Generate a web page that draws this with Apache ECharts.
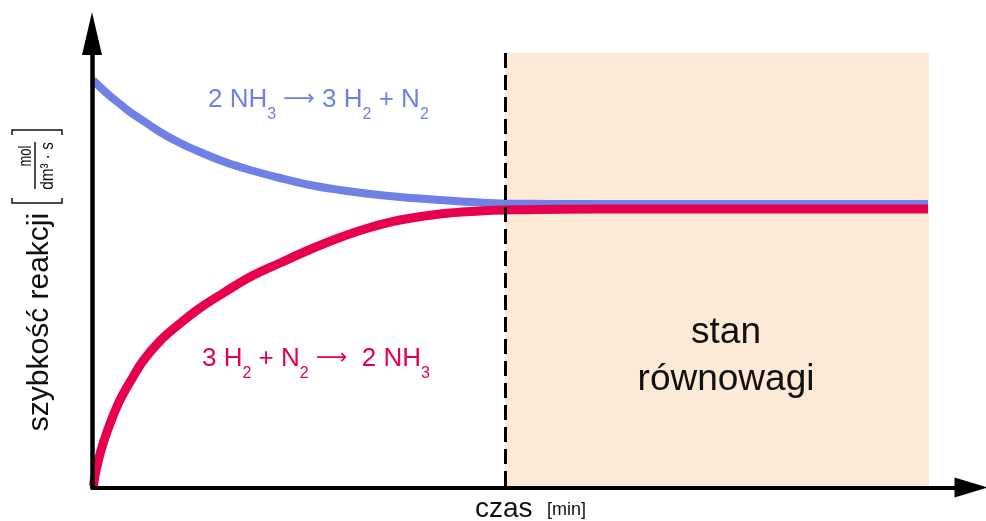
<!DOCTYPE html>
<html>
<head>
<meta charset="utf-8">
<script src="https://cdn.jsdelivr.net/npm/echarts@6/dist/echarts.min.js"></script>
<style>html,body{margin:0;padding:0;background:#fff;}#chart{width:986px;height:521px;}</style>
</head>
<body>
<div id="chart"></div>
<script>
// ---- data (time units, rate units) ----
const timeBlue = [0.1, 0.8, 1.8, 2.8, 3.8, 5.3, 6.8, 8.8, 10.8, 13.3, 15.8, 18.8, 21.8, 24.8, 27.8, 30.8, 34.8, 38.8, 41.3, 50.8, 83.6];
const rateBlue = [40.75, 40.05, 39.15, 38.35, 37.55, 36.55, 35.55, 34.45, 33.55, 32.55, 31.75, 30.95, 30.25, 29.75, 29.35, 29.05, 28.75, 28.5, 28.4, 28.35, 28.35];
const timeRed = [0.15, 0.3, 0.6, 1.0, 1.5, 2.1, 2.8, 3.8, 5.1, 6.8, 8.8, 10.8, 13.3, 15.8, 18.8, 21.8, 24.8, 27.8, 30.8, 34.8, 38.8, 41.3, 50.8, 83.6];
const rateRed = [0.15, 1.15, 2.55, 4.05, 5.55, 7.15, 8.75, 10.55, 12.65, 14.65, 16.4, 17.95, 19.55, 21.05, 22.45, 23.8, 25.0, 26.0, 26.75, 27.35, 27.65, 27.75, 27.85, 27.85];
const equilibriumStart = 41.3;
const equilibriumEnd = 83.7;
const regionTop = 43.45;
const axisMaxX = 87.9;
const axisMaxY = 45.4;

const blueLabel = '{m|2 NH}{s|3}{m| }{a|\u27F6}{m| 3 H}{s|2}{m| + N}{s|2}';
const redLabel = '{m|3 H}{s|2}{m| + N}{s|2}{m| }{a|\u27F6}{m|  2 NH}{s|3}';
const yName = 'szybkość reakcji';
const yUnitTop = 'mol';
const yUnitBottom = 'dm³ · s';
const xName = 'czas';
const xUnit = '[min]';
const regionLabel = 'stan\nrównowagi';

const BLUE = '#7080E4';
const RED = '#E6004F';
const FONT = '"Liberation Sans", Arial, Helvetica, sans-serif';

function zip(xs, ys) { return xs.map((x, i) => [x, ys[i]]); }
function richStyles(color) {
  return {
    m: { fontSize: 26, lineHeight: 30, fill: color, fontFamily: FONT },
    a: { fontSize: 22, lineHeight: 30, fill: color, fontFamily: '"DejaVu Sans", sans-serif' },
    s: { fontSize: 16, lineHeight: 16, fill: color, fontFamily: FONT, padding: [31, 0, 0, 0] }
  };
}

const chart = echarts.init(document.getElementById('chart'));
const option = {
  animation: false,
  backgroundColor: '#ffffff',
  grid: { left: 92, right: 15, top: 33.5, bottom: 33.5, containLabel: false },
  xAxis: {
    type: 'value', min: 0, max: axisMaxX, z: 10,
    axisLine: { show: true, onZero: false, symbol: ['none', 'triangle'], symbolSize: [20, 33],
      lineStyle: { color: '#000', width: 4 } },
    axisTick: { show: false }, axisLabel: { show: false }, splitLine: { show: false }
  },
  yAxis: {
    type: 'value', min: 0, max: axisMaxY, z: 10,
    axisLine: { show: true, onZero: false, symbol: ['none', 'triangle'], symbolSize: [20, 43],
      lineStyle: { color: '#000', width: 4.5 } },
    axisTick: { show: false }, axisLabel: { show: false }, splitLine: { show: false }
  },
  series: [
    {
      type: 'line', data: [], z: 1, silent: true,
      markArea: { silent: true, itemStyle: { color: '#FCE9D6' },
        data: [[{ coord: [equilibriumStart, 0] }, { coord: [equilibriumEnd, regionTop] }]] }
    },
    {
      name: 'blue', type: 'line', data: zip(timeBlue, rateBlue), smooth: 0.4,
      showSymbol: false, z: 3, lineStyle: { color: BLUE, width: 8 }
    },
    {
      name: 'red', type: 'line', data: zip(timeRed, rateRed), smooth: 0.4,
      showSymbol: false, z: 4, lineStyle: { color: RED, width: 9 }
    },
    {
      type: 'line', data: [], z: 5, silent: true,
      markLine: { silent: true, symbol: 'none', label: { show: false },
        lineStyle: { color: '#000', width: 3, type: [15, 7] },
        data: [[{ coord: [equilibriumStart, regionTop] }, { coord: [equilibriumStart, 0] }]] }
    }
  ],
  graphic: [
    { type: 'text', left: 208, top: 76, z: 20, style: { text: blueLabel, rich: richStyles(BLUE), fill: BLUE } },
    { type: 'text', left: 202, top: 335, z: 20, style: { text: redLabel, rich: richStyles(RED), fill: RED } },
    { type: 'text', x: 726, y: 309, z: 20, style: { text: regionLabel, fontSize: 37, lineHeight: 47, fontFamily: FONT,
        fill: '#111', align: 'center', verticalAlign: 'top' } },
    { type: 'text', x: 40, y: 322, rotation: Math.PI / 2, z: 20, style: { text: yName, fontSize: 30, fontFamily: FONT,
        fill: '#111', align: 'center', verticalAlign: 'middle' } },
    { type: 'text', x: 26, y: 156, rotation: Math.PI / 2, scaleX: 0.68, z: 20, style: { text: yUnitTop, fontSize: 19, fontFamily: FONT,
        fill: '#111', align: 'center', verticalAlign: 'middle' } },
    { type: 'text', x: 48, y: 166, rotation: Math.PI / 2, scaleX: 0.85, z: 20, style: { text: yUnitBottom, fontSize: 18, fontFamily: FONT,
        fill: '#111', align: 'center', verticalAlign: 'middle' } },
    { type: 'line', z: 20, shape: { x1: 35, y1: 142, x2: 35, y2: 189 }, style: { stroke: '#111', lineWidth: 1.5 } },
    { type: 'polyline', z: 20, shape: { points: [[12, 198], [12, 203], [62, 203], [62, 198]] }, style: { stroke: '#111', lineWidth: 1.5, fill: null } },
    { type: 'polyline', z: 20, shape: { points: [[12, 135], [12, 130], [62, 130], [62, 135]] }, style: { stroke: '#111', lineWidth: 1.5, fill: null } },
    { type: 'text', x: 475, y: 523, z: 20, style: { text: xName, fontSize: 28, fontFamily: FONT, fill: '#111',
        align: 'left', verticalAlign: 'bottom' } },
    { type: 'text', x: 547, y: 519, z: 20, style: { text: xUnit, fontSize: 18, fontFamily: FONT, fill: '#111',
        align: 'left', verticalAlign: 'bottom' } }
  ]
};
chart.setOption(option);
</script>
</body>
</html>
